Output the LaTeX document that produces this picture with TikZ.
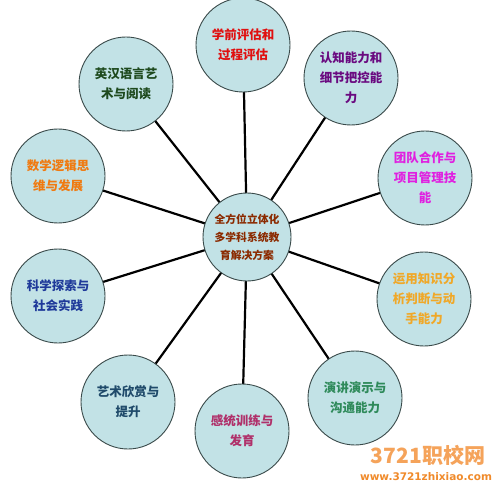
\documentclass[tikz,border=0pt]{standalone}
\usepackage{fontspec}
\newfontfamily\cjk{Noto Sans CJK SC}
\newfontfamily\wmfont{DejaVu Sans}
\definecolor{cfill}{HTML}{C2E2E6}
\definecolor{cedge}{HTML}{3A4A4A}
\definecolor{tcenter}{HTML}{8B2A00}
\definecolor{tred}{HTML}{E01010}
\definecolor{tpurple}{HTML}{6A0A80}
\definecolor{tmagenta}{HTML}{E020E0}
\definecolor{tgold}{HTML}{F0A828}
\definecolor{tgreen}{HTML}{2E8A5A}
\definecolor{tcrimson}{HTML}{B0306A}
\definecolor{tnavy}{HTML}{1F4A6A}
\definecolor{tblue}{HTML}{1F3A9A}
\definecolor{torange}{HTML}{F07A10}
\definecolor{tdkgreen}{HTML}{1E4A1E}
\definecolor{wmark}{HTML}{F5A35A}
\definecolor{wmark2}{HTML}{F08A2A}
\begin{document}
\begin{tikzpicture}[x=1pt,y=-1pt,
  bubble/.style={circle,draw=cedge,line width=0.9pt,fill=cfill,minimum size=94pt,inner sep=0pt,align=center,font=\cjk\bfseries\fontsize{12.5}{20}\selectfont},
  hub/.style={bubble,minimum size=88pt,font=\cjk\bfseries\fontsize{10.8}{18}\selectfont},
  spoke/.style={line width=2.2pt,black}]
\useasboundingbox (0,0) rectangle (500,486);
\fill[white] (0,0) rectangle (500,486);
\coordinate (pc) at (247,237);
\coordinate (p1) at (243,45);
\coordinate (p2) at (351,78);
\coordinate (p3) at (425,178);
\coordinate (p4) at (424,299);
\coordinate (p5) at (355,398);
\coordinate (p6) at (242,431);
\coordinate (p7) at (128,402);
\coordinate (p8) at (58,296);
\coordinate (p9) at (58,176);
\coordinate (p10) at (126,84);
\foreach \i in {1,...,10} {\draw[spoke] (pc) -- (p\i);}
\node[hub,text=tcenter] (c) at (pc) {全方位立体化\\多学科系统教\\育解决方案};
\node[bubble,text=tred] (o1) at (p1) {学前评估和\\过程评估};
\node[bubble,text=tpurple] (o2) at (p2) {认知能力和\\细节把控能\\力};
\node[bubble,text=tmagenta] (o3) at (p3) {团队合作与\\项目管理技\\能};
\node[bubble,text=tgold] (o4) at (p4) {运用知识分\\析判断与动\\手能力};
\node[bubble,text=tgreen] (o5) at (p5) {演讲演示与\\沟通能力};
\node[bubble,text=tcrimson] (o6) at (p6) {感统训练与\\发育};
\node[bubble,text=tnavy] (o7) at (p7) {艺术欣赏与\\提升};
\node[bubble,text=tblue] (o8) at (p8) {科学探索与\\社会实践};
\node[bubble,text=torange] (o9) at (p9) {数学逻辑思\\维与发展};
\node[bubble,text=tdkgreen] (o10) at (p10) {英汉语言艺\\术与阅读};
\node[text=wmark,font=\cjk\bfseries\fontsize{21}{21}\selectfont,inner sep=0pt] (wm1) at (428,455) {3721职校网};
\node[text=wmark2,font=\wmfont\bfseries\fontsize{10.5}{10.5}\selectfont,inner sep=0pt] (wm2) at (426,477) {www.3721zhixiao.com};
\end{tikzpicture}
\end{document}
